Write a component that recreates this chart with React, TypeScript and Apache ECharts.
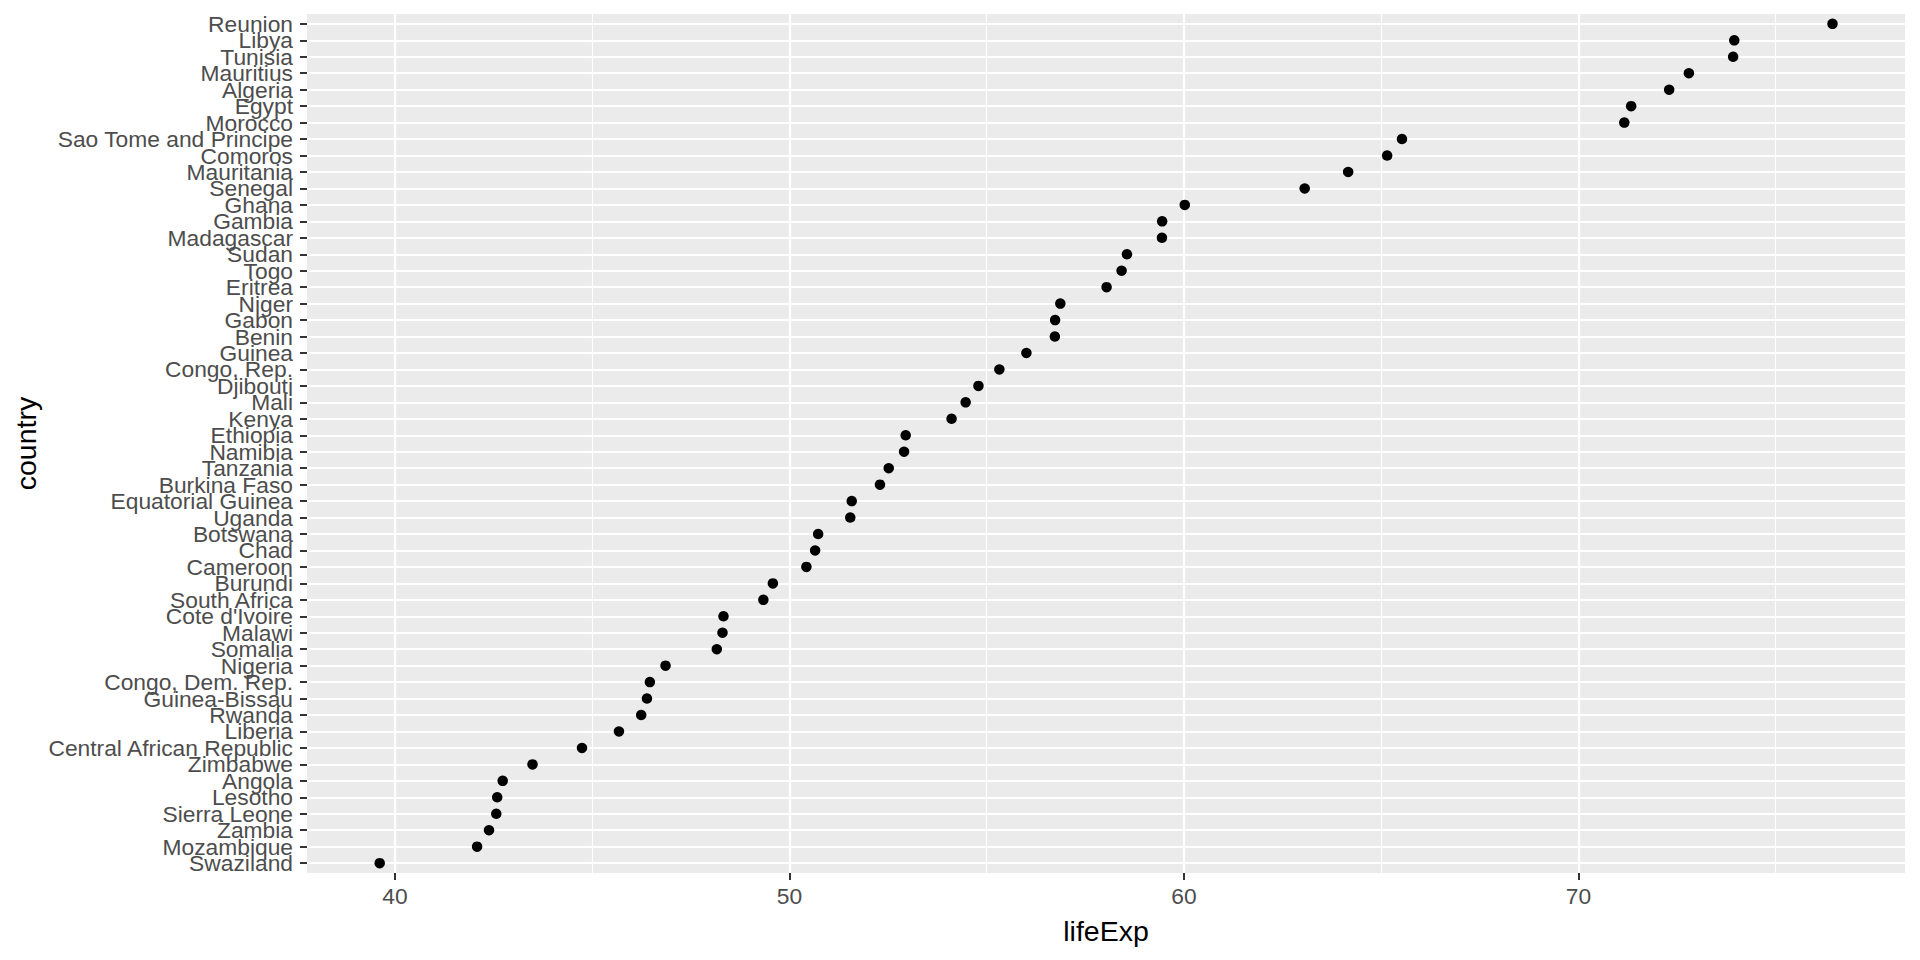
import React, { useEffect, useRef } from "react";
import * as echarts from "echarts";

// Countries sorted by 2007 life expectancy (bottom to top)
const countries: string[] = [
  "Swaziland", "Mozambique", "Zambia", "Sierra Leone", "Lesotho", "Angola",
  "Zimbabwe", "Central African Republic", "Liberia", "Rwanda", "Guinea-Bissau",
  "Congo, Dem. Rep.", "Nigeria", "Somalia", "Malawi", "Cote d'Ivoire",
  "South Africa", "Burundi", "Cameroon", "Chad", "Botswana", "Uganda",
  "Equatorial Guinea", "Burkina Faso", "Tanzania", "Namibia", "Ethiopia",
  "Kenya", "Mali", "Djibouti", "Congo, Rep.", "Guinea", "Benin", "Gabon",
  "Niger", "Eritrea", "Togo", "Sudan", "Madagascar", "Gambia", "Ghana",
  "Senegal", "Mauritania", "Comoros", "Sao Tome and Principe", "Morocco",
  "Egypt", "Algeria", "Mauritius", "Tunisia", "Libya", "Reunion",
];

const lifeExp: number[] = [
  39.613, 42.082, 42.384, 42.568, 42.592, 42.731,
  43.487, 44.741, 45.678, 46.242, 46.388,
  46.462, 46.859, 48.159, 48.303, 48.328,
  49.339, 49.58, 50.43, 50.651, 50.728, 51.542,
  51.579, 52.295, 52.517, 52.906, 52.947,
  54.11, 54.467, 54.791, 55.322, 56.007, 56.728, 56.735,
  56.867, 58.04, 58.42, 58.556, 59.443, 59.448, 60.022,
  63.062, 64.164, 65.152, 65.528, 71.164,
  71.338, 72.301, 72.801, 73.923, 73.952, 76.442,
];

const xMajorTicks: number[] = [40, 50, 60, 70];
const xMinorTicks: number[] = [45, 55, 65, 75];

const FONT = "'Liberation Sans', Arial, sans-serif";

export default function App() {
  const ref = useRef<HTMLDivElement>(null);

  useEffect(() => {
    if (!ref.current) return;
    const chart = echarts.init(ref.current, undefined, { renderer: "svg" });

    const positions = countries.map((_, i) => i + 1);
    // split labels across two overlaid axes so ECharts keeps every label
    const oddPositions = positions.filter((p) => p % 2 === 1);
    const evenPositions = positions.filter((p) => p % 2 === 0);
    const xMin = 37.77;
    const xMax = 78.28;

    const gridLines: any[] = [
      ...xMinorTicks.map((v) => ({ xAxis: v, lineStyle: { width: 1.1 } })),
      ...xMajorTicks.map((v) => ({ xAxis: v, lineStyle: { width: 2.2 } })),
      ...positions.map((v) => ({ yAxis: v, lineStyle: { width: 2.2 } })),
    ];

    const makeYAxis = (vals: number[]) => ({
      type: "value",
      position: "left",
      offset: 0,
      min: 0.4,
      max: 52.6,
      axisLine: { show: false },
      splitLine: { show: false },
      axisTick: {
        show: true,
        length: 7,
        customValues: vals,
        lineStyle: { color: "#333333", width: 2 },
      },
      axisLabel: {
        customValues: vals,
        showMinLabel: true,
        showMaxLabel: true,
        hideOverlap: false,
        fontSize: 22.8,
        color: "#4D4D4D",
        margin: 14,
        fontFamily: FONT,
        formatter: (v: number) => countries[Math.round(v) - 1] ?? "",
      },
    });

    chart.setOption({
      animation: false,
      backgroundColor: "#FFFFFF",
      textStyle: { fontFamily: FONT },
      grid: {
        left: 307,
        right: 15,
        top: 14,
        bottom: 87,
        show: true,
        backgroundColor: "#EBEBEB",
        borderWidth: 0,
        containLabel: false,
      },
      xAxis: {
        type: "value",
        min: xMin,
        max: xMax,
        axisLine: { show: false },
        splitLine: { show: false },
        axisTick: {
          show: true,
          length: 7,
          customValues: xMajorTicks,
          lineStyle: { color: "#333333", width: 2 },
        },
        axisLabel: {
          customValues: xMajorTicks,
          fontSize: 22.8,
          color: "#4D4D4D",
          margin: 11,
          fontFamily: FONT,
        },
      },
      yAxis: [makeYAxis(oddPositions), makeYAxis(evenPositions)],
      graphic: [
        {
          type: "text",
          x: 1106,
          y: 931,
          style: {
            text: "lifeExp",
            fontSize: 28.5,
            fill: "#000000",
            fontFamily: FONT,
            textAlign: "center",
            textVerticalAlign: "middle",
          },
        },
        {
          type: "text",
          x: 26,
          y: 443.5,
          rotation: Math.PI / 2,
          style: {
            text: "country",
            fontSize: 28.5,
            fill: "#000000",
            fontFamily: FONT,
            textAlign: "center",
            textVerticalAlign: "middle",
          },
        },
      ],
      series: [
        {
          type: "line",
          data: [],
          yAxisIndex: 0,
          z: 1,
          silent: true,
          markLine: {
            z: 1,
            silent: true,
            symbol: "none",
            label: { show: false },
            lineStyle: { color: "#FFFFFF", type: "solid" },
            emphasis: { disabled: true },
            animation: false,
            data: gridLines,
          },
        },
        {
          type: "scatter",
          yAxisIndex: 0,
          z: 10,
          symbol: "circle",
          symbolSize: 10.5,
          itemStyle: { color: "#000000", opacity: 1 },
          data: lifeExp.map((v, i) => [v, positions[i]]),
        },
      ],
    });

    return () => chart.dispose();
  }, []);

  return (
    <div
      ref={ref}
      style={{ position: "fixed", left: 0, top: 0, width: 1920, height: 960 }}
    />
  );
}
